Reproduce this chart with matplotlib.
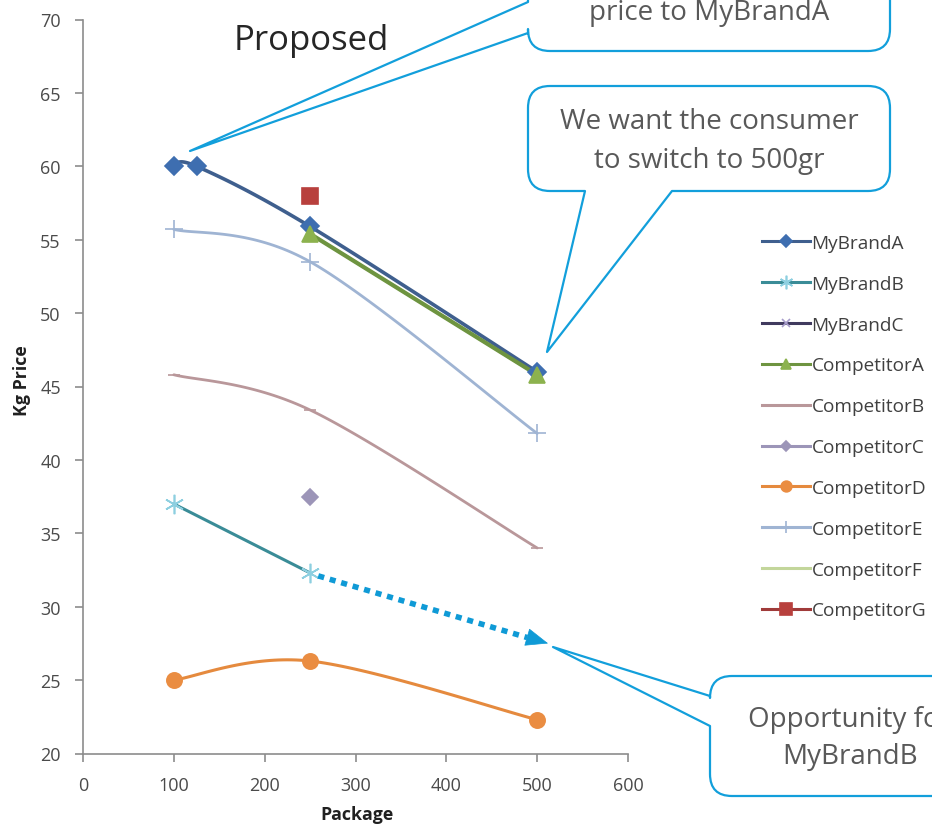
import numpy as np
import matplotlib
matplotlib.use("Agg")
import matplotlib.pyplot as plt
from matplotlib.path import Path
from matplotlib.patches import PathPatch
from matplotlib.transforms import Affine2D
from matplotlib.lines import Line2D

plt.rcParams['font.family'] = ['Open Sans', 'DejaVu Sans']

# Kg price per package size (grams)
mybrand_a_x = [100, 125, 250, 500]
mybrand_a_y = [60.0, 60.0, 55.9, 46.0]
mybrand_b_x = [100, 250]
mybrand_b_y = [37.0, 32.3]
mybrand_c_x = []
mybrand_c_y = []
comp_a_x = [250, 500]
comp_a_y = [55.4, 45.8]
comp_b_x = [100, 250, 500]
comp_b_y = [45.8, 43.4, 34.0]
comp_c_x = [250]
comp_c_y = [37.5]
comp_d_x = [100, 250, 500]
comp_d_y = [25.0, 26.3, 22.3]
comp_e_x = [100, 250, 500]
comp_e_y = [55.7, 53.5, 41.8]
comp_f_x = [250, 500]
comp_f_y = [55.4, 45.8]
comp_g_x = [250]
comp_g_y = [58.0]

W, H = 932, 829
fig = plt.figure(figsize=(W / 100, H / 100), dpi=100)
ax = fig.add_axes([83 / W, 74.5 / H, 545 / W, 734 / H])
ax.set_xlim(0, 600)
ax.set_ylim(20, 70)


def smooth(xs, ys, n=40):
    # Excel-style smoothed line: Catmull-Rom bezier in screen space
    if len(xs) < 3:
        return xs, ys
    pts = ax.transData.transform(np.column_stack([xs, ys]))
    out = [pts[0]]
    for i in range(len(pts) - 1):
        p0 = pts[max(i - 1, 0)]
        p1 = pts[i]
        p2 = pts[i + 1]
        p3 = pts[min(i + 2, len(pts) - 1)]
        c1 = p1 + (p2 - p0) / 6
        c2 = p2 - (p3 - p1) / 6
        t = np.linspace(0, 1, n)[1:, None]
        seg = ((1 - t) ** 3) * p1 + 3 * ((1 - t) ** 2) * t * c1 + 3 * (1 - t) * t ** 2 * c2 + t ** 3 * p2
        out.extend(seg)
    data = ax.transData.inverted().transform(np.array(out))
    return data[:, 0], data[:, 1]


def series(xs, ys, line, marker, mcolor, ms, smoothed=False, lw=2.2, mew=1.2, legend_marker=True):
    if smoothed:
        sx, sy = smooth(xs, ys)
        ax.plot(sx, sy, color=line, lw=lw, solid_capstyle='round', zorder=3)
    else:
        ax.plot(xs, ys, color=line, lw=lw, solid_capstyle='round', zorder=3)
    if marker != 'None':
        ax.plot(xs, ys, ls='none', marker=marker, color=mcolor, ms=ms, mew=mew, zorder=4)
    lm = marker if legend_marker else 'None'
    return Line2D([], [], color=line, lw=2.2, marker=lm,
                  markerfacecolor=mcolor, markeredgecolor=mcolor, ms=ms * 0.7, mew=mew)


comp_b_h = series(comp_b_x, comp_b_y, '#b9979a', '_', '#b9979a', 9, smoothed=True, lw=2.0,
                  legend_marker=False)
comp_e_h = series(comp_e_x, comp_e_y, '#9fb4d3', '+', '#9fb4d3', 13, smoothed=True, lw=2.0)
comp_d_h = series(comp_d_x, comp_d_y, '#e58a3e', 'o', '#ea8d42', 11, smoothed=True, lw=2.2)
mybrand_b_h = series(mybrand_b_x, mybrand_b_y, '#3a8c97', (6, 2, 0), '#8dcfe0', 14, lw=2.2)
comp_c_h = series(comp_c_x, comp_c_y, '#9c95b8', 'D', '#9c95b8', 8)
comp_f_h = series(comp_f_x, comp_f_y, '#c3d69b', 'None', '#c3d69b', 0)
mybrand_a_h = series(mybrand_a_x, mybrand_a_y, '#3f5f8e', 'D', '#3e6eb0', 9, smoothed=True, lw=2.6)
comp_a_h = series(comp_a_x, comp_a_y, '#6e9440', '^', '#8cb24e', 11, lw=3.0)
comp_g_h = series(comp_g_x, comp_g_y, '#a03b3a', 's', '#b8403d', 12)
mybrand_c_h = series(mybrand_c_x, mybrand_c_y, '#403a5e', 'x', '#a79ccb', 9)

legend_handles = [mybrand_a_h, mybrand_b_h, mybrand_c_h, comp_a_h, comp_b_h,
                  comp_c_h, comp_d_h, comp_e_h, comp_f_h, comp_g_h]
legend_labels = ['MyBrandA', 'MyBrandB', 'MyBrandC', 'CompetitorA', 'CompetitorB',
                 'CompetitorC', 'CompetitorD', 'CompetitorE', 'CompetitorF', 'CompetitorG']
leg = fig.legend(legend_handles, legend_labels, loc='upper left',
                 bbox_to_anchor=(762 / W, 1 - 235 / H), frameon=False,
                 fontsize=13.7, handlelength=2.5, handletextpad=0.1,
                 labelspacing=1.2, borderpad=0, borderaxespad=0)
for t in leg.get_texts():
    t.set_color('#404040')

# axes styling
for s in ['top', 'right']:
    ax.spines[s].set_visible(False)
for s in ['left', 'bottom']:
    ax.spines[s].set_color('#8c8c8c')
    ax.spines[s].set_linewidth(1.2)
ax.set_xticks(range(0, 601, 100))
ax.set_yticks(range(20, 71, 5))
ax.tick_params(colors='#8c8c8c', labelcolor='#4a4a4a', labelsize=13, length=6, width=1.2, pad=10)

# dotted arrow from MyBrandB towards the bigger pack
ax.plot([259, 489], [32.1, 27.9], color='#0f9ad6', lw=4.0, dashes=(1.1, 1.05),
        dash_capstyle='butt', zorder=5)
ax.annotate('', xy=(512, 27.5), xytext=(489, 27.92),
            arrowprops=dict(arrowstyle='-|>,head_length=1.5,head_width=0.6', color='#0f9ad6',
                            lw=0.5, shrinkA=0, shrinkB=0),
            zorder=5)

# text and callouts, placed in figure pixel coordinates (y down)
pix = Affine2D().scale(1 / W, -1 / H).translate(0, 1) + fig.transFigure
BLUE = '#129fdb'

fig.text(357, 815, 'Package', transform=pix, fontsize=12.8, fontweight='bold',
         color='#202020', ha='center', va='center')
fig.text(22, 381, 'Kg Price', transform=pix, fontsize=12.8, fontweight='bold',
         color='#202020', ha='center', va='center', rotation=90)
fig.text(311, 41, 'Proposed', transform=pix, fontsize=25, color='#262626',
         ha='center', va='center')


def callout(left, top, right, bottom, side, b1, b2, tip, r=22):
    v = [(left + r, top), (right - r, top), (right, top), (right, top + r),
         (right, bottom - r), (right, bottom), (right - r, bottom)]
    c = [Path.MOVETO, Path.LINETO, Path.CURVE3, Path.CURVE3,
         Path.LINETO, Path.CURVE3, Path.CURVE3]
    if side == 'bottom':
        v += [(b2, bottom), tip, (b1, bottom)]
        c += [Path.LINETO] * 3
    v += [(left + r, bottom), (left, bottom), (left, bottom - r)]
    c += [Path.LINETO, Path.CURVE3, Path.CURVE3]
    if side == 'left':
        v += [(left, b2), tip, (left, b1)]
        c += [Path.LINETO] * 3
    v += [(left, top + r), (left, top), (left + r, top), (left + r, top)]
    c += [Path.LINETO, Path.CURVE3, Path.CURVE3, Path.CLOSEPOLY]
    patch = PathPatch(Path(v, c), facecolor='white', edgecolor=BLUE, lw=1.6,
                      transform=pix, zorder=10, clip_on=False, joinstyle='round')
    fig.add_artist(patch)


callout(528, -70, 890, 52, 'left', 3, 34, (190, 152))
callout(528, 87, 890, 192, 'bottom', 585, 672, (547, 353))
callout(710, 677, 990, 797, 'left', 697, 727, (553, 648))

txt = dict(transform=pix, ha='center', va='center', fontsize=20, color='#595959', zorder=11)
fig.text(709, 13, 'price to MyBrandA', **txt)
fig.text(709, 122, 'We want the consumer', **txt)
fig.text(709, 161, 'to switch to 500gr', **txt)
fig.text(850, 720, 'Opportunity for', **txt)
fig.text(850, 757, 'MyBrandB', **txt)

fig.savefig('out.png', dpi=100, facecolor='white')
